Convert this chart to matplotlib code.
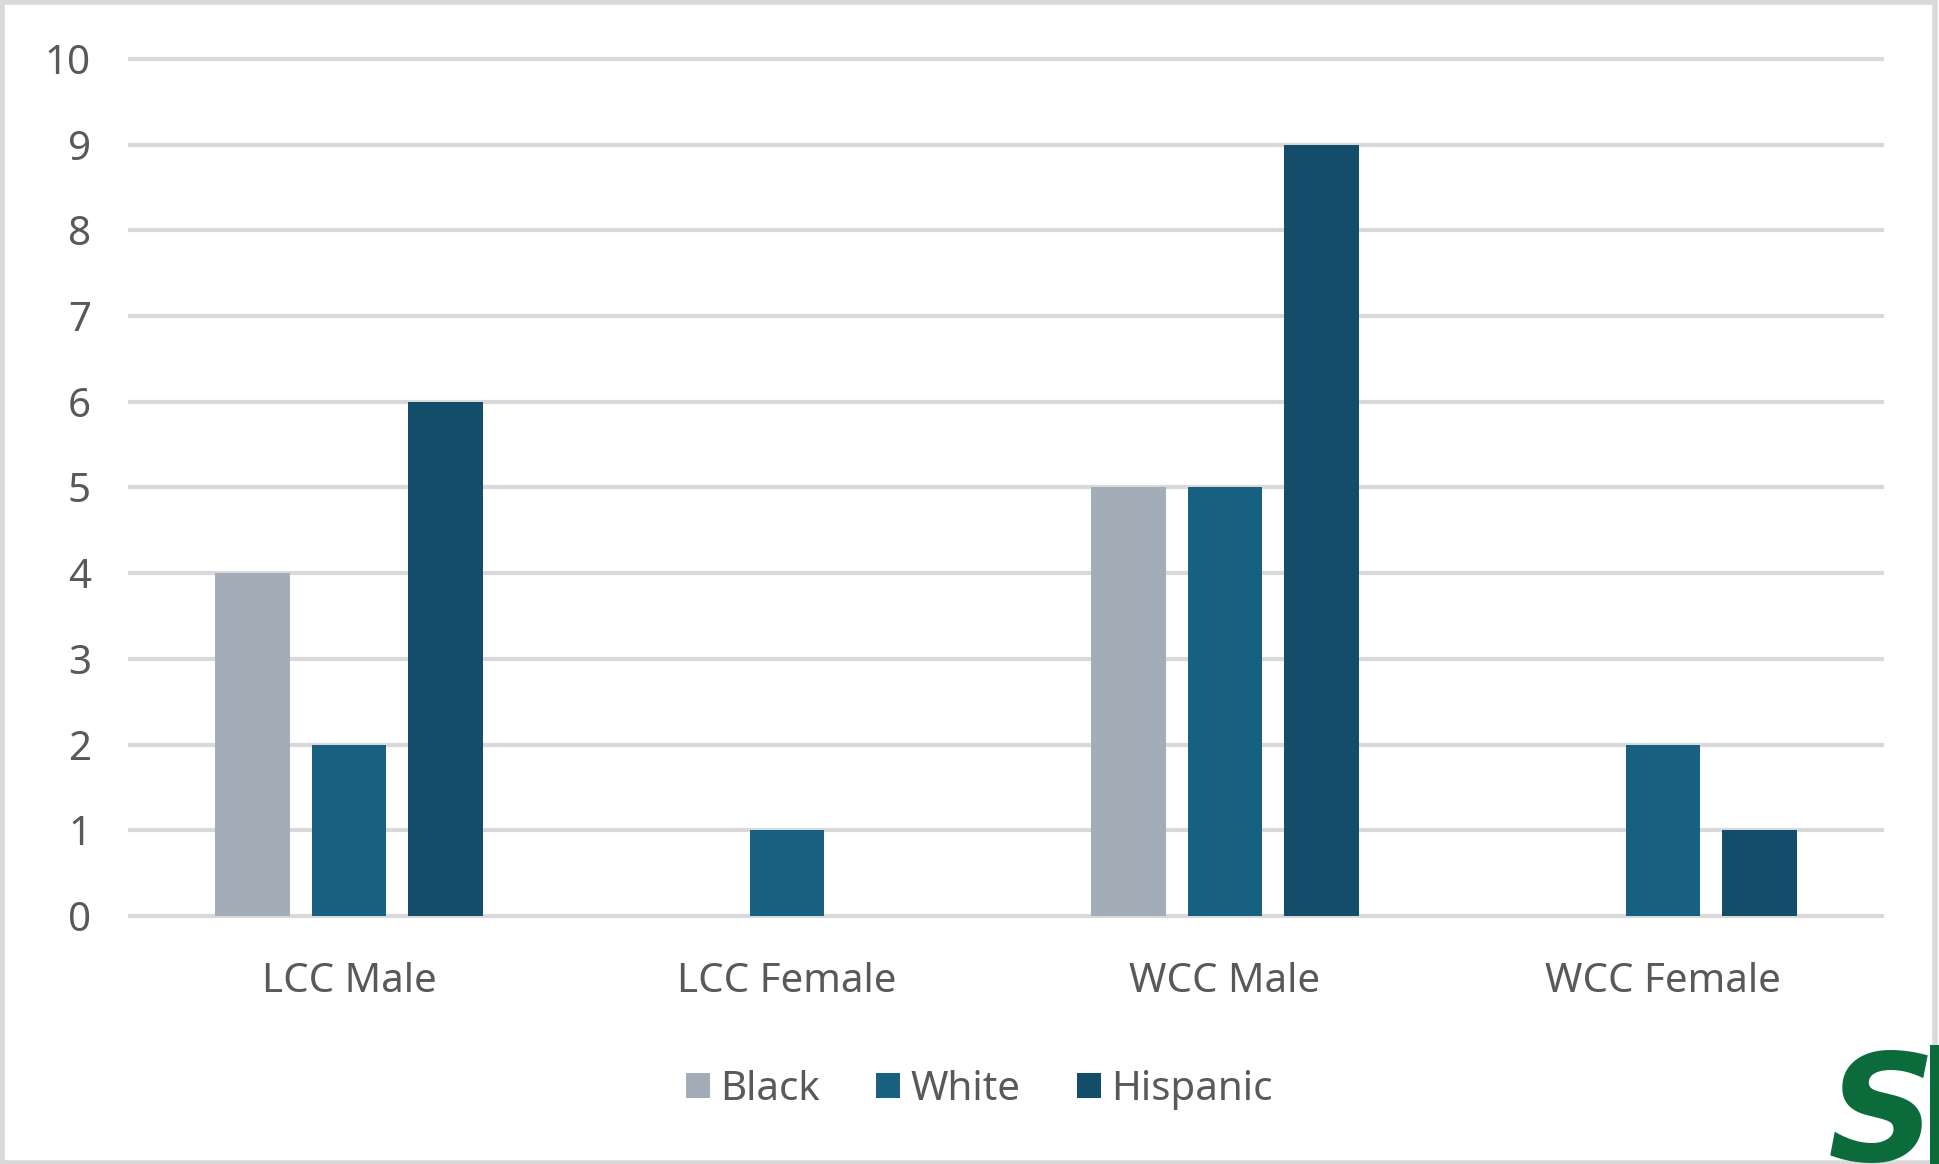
import matplotlib
matplotlib.use("Agg")
import matplotlib.pyplot as plt
import numpy as np
from matplotlib.patches import Rectangle

# Counts per group and ethnicity
groups = ["LCC Male", "LCC Female", "WCC Male", "WCC Female"]
black = [4, 0, 5, 0]
white = [2, 1, 5, 2]
hispanic = [6, 0, 9, 1]
series_names = ["Black", "White", "Hispanic"]
yticks = list(range(0, 11))

colors = ["#A2ADB8", "#17607F", "#134D69"]
grid_col = "#D9D9D9"
text_col = "#595959"

plt.rcParams["font.family"] = ["Noto Sans", "DejaVu Sans"]

fig = plt.figure(figsize=(19.39, 11.64), dpi=100)
ax = fig.add_axes([0.067, 0.2131, 0.9036, 0.7362])

x = np.arange(len(groups))
offsets = [-0.22, 0.0, 0.22]
width = 0.17
for vals, off, col, name in zip([black, white, hispanic], offsets, colors, series_names):
    ax.bar(x + off, vals, width=width, color=col, label=name, zorder=3)

ax.set_xlim(-0.5, len(groups) - 0.5)
ax.set_ylim(0, 10)
ax.set_yticks(yticks)
ax.set_xticks(x)
ax.set_xticklabels(groups)

# light horizontal gridlines, drawn past the top edge too
for t in yticks:
    ax.axhline(t, color=grid_col, lw=3, zorder=1, clip_on=False)

for s in ax.spines.values():
    s.set_visible(False)
ax.tick_params(axis="both", length=0, labelsize=29, colors=text_col)
ax.tick_params(axis="y", pad=28)
ax.tick_params(axis="x", pad=33)

leg = fig.legend(loc="center", bbox_to_anchor=(0.505, 0.064), ncol=3, frameon=False,
                 fontsize=29, handlelength=0.6, handleheight=0.6, handletextpad=0.25,
                 columnspacing=1.4, labelcolor=text_col)

# outer frame
fig.patches.append(Rectangle((0.001, 0.001), 0.997, 0.997, transform=fig.transFigure,
                             fill=False, edgecolor=grid_col, lw=4))

# corner logo
fig.text(0.9425, -0.024, "S", fontsize=108, fontweight="bold", fontstyle="oblique",
         family="DejaVu Sans", color="#0B6B3A", ha="left", va="bottom")
fig.patches.append(Rectangle((0.9955, 0.0), 0.01, 0.102, transform=fig.transFigure,
                             color="#0B6B3A", lw=0))

fig.savefig("out.png", dpi=100, facecolor="white")
